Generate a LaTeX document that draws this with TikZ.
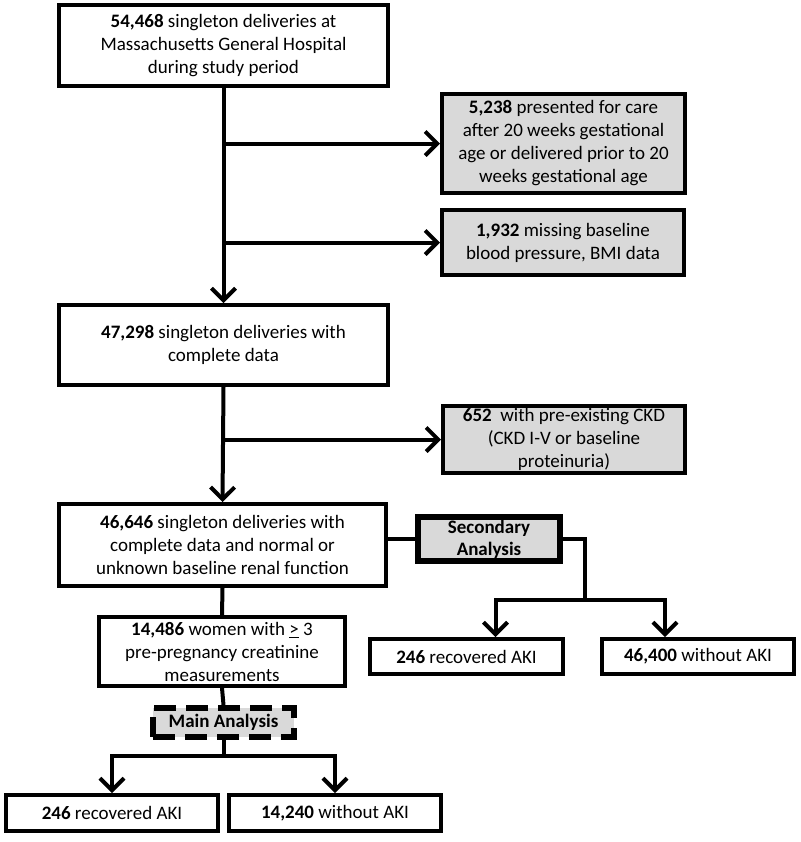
\documentclass[tikz,border=0pt]{standalone}
\usepackage{fontspec}
\setmainfont{Carlito}
\usepackage{xcolor}
\usetikzlibrary{arrows.meta, positioning}
\definecolor{boxgray}{HTML}{D9D9D9}

\begin{document}
\begin{tikzpicture}[x=0.5pt, y=-0.5pt,
    box/.style={rectangle, draw, line width=2pt, fill=white, align=center, inner sep=1pt, font=\fontsize{9.5}{11.5}\selectfont},
    excl/.style={box, fill=boxgray},
    arrow/.style={-{Straight Barb[length=6pt,width=12pt]}, line width=2pt},
    link/.style={line width=2pt}
]
\useasboundingbox (0,0) rectangle (800,842);

% Main flow
\node[box, minimum width=164.5pt, minimum height=40.5pt] (all) at (223.5,45.5) {\textbf{54,468} singleton deliveries at\\Massachusetts General Hospital\\during study period};
\node[box, minimum width=164.5pt, minimum height=40pt] (complete) at (223.5,345) {\textbf{47,298} singleton deliveries with\\complete data};
\node[box, minimum width=163.5pt, minimum height=41pt] (cohort) at (222.5,545) {\textbf{46,646} singleton deliveries with\\complete data and normal or\\unknown baseline renal function};
\node[box, minimum width=123pt, minimum height=34.5pt] (creat) at (222,651.5) {\textbf{14,486} women with \underline{>} 3\\pre-pregnancy creatinine\\measurements};

% Exclusions
\node[excl, minimum width=121.5pt, minimum height=49.5pt] (excl1) at (563.5,143.5) {\textbf{5,238} presented for care\\after 20 weeks gestational\\age or delivered prior to 20\\weeks gestational age};
\node[excl, minimum width=121pt, minimum height=32.5pt] (excl2) at (563,242.5) {\textbf{1,932} missing baseline\\blood pressure, BMI data};
\node[excl, minimum width=121pt, minimum height=33.5pt, inner sep=0pt] (ckd) at (564,439.5) {\textbf{652}~ with pre-existing CKD\\(CKD I-V or baseline\\proteinuria)};

% Analyses
\node[excl, line width=3pt, minimum width=71pt, minimum height=22pt, font=\fontsize{9.5}{11}\selectfont\bfseries] (secondary) at (489,539) {Secondary\\Analysis};
\node[excl, line width=3pt, dash pattern=on 11pt off 5pt, minimum width=70.5pt, minimum height=14.5pt, font=\fontsize{9.5}{11.5}\selectfont\bfseries] (mainana) at (223.5,722.5) {Main Analysis};

% Outcomes
\node[box, minimum width=96.5pt, minimum height=17.5pt] (secaki) at (466.5,656.5) {\textbf{246} recovered AKI};
\node[box, minimum width=96pt, minimum height=17.5pt] (secnoaki) at (698,656.5) {\textbf{46,400} without AKI};
\node[box, minimum width=106pt, minimum height=18pt] (mainaki) at (112,813) {\textbf{246} recovered AKI};
\node[box, minimum width=106pt, minimum height=18pt] (mainnoaki) at (335,813) {\textbf{14,240} without AKI};

\coordinate (secsplit) at (585,600);
\coordinate (mainsplit) at (223.5,756);

% Connectors
\draw[arrow] (all.south) -- (complete.north);
\draw[arrow] (excl1.west -| all.south) -- (excl1.west);
\draw[arrow] (excl2.west -| all.south) -- (excl2.west);
\draw[arrow] (complete.south) -- (cohort.north);
\draw[arrow] (ckd.west -| complete.south) -- (ckd.west);

\draw[link] (cohort.east |- secondary.west) -- (secondary.west);
\draw[link] (secondary.east) -| (secsplit);
\draw[arrow] (secsplit) -| ([xshift=14.5pt]secaki.north);
\draw[arrow] (secsplit) -| ([xshift=-16.5pt]secnoaki.north);

\draw[link] (cohort.south) -- (creat.north);
\draw[link] (creat.south) -- (mainana.north);
\draw[link] (mainana.south) -- (mainsplit);
\draw[arrow] (mainsplit) -| (mainaki.north);
\draw[arrow] (mainsplit) -| (mainnoaki.north);

\end{tikzpicture}
\end{document}
